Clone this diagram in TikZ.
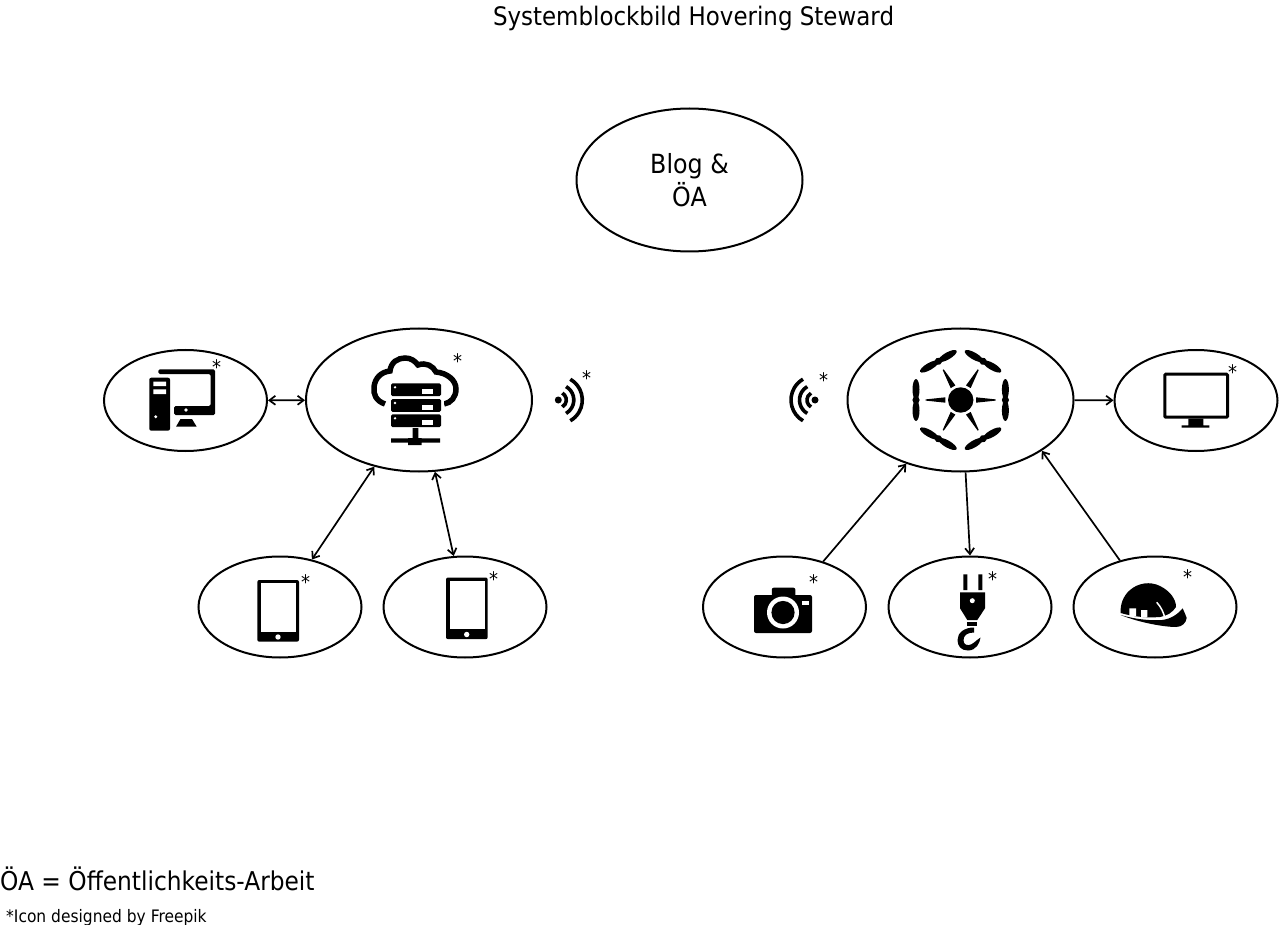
\documentclass[tikz,border=0pt]{standalone}
\usepackage{fontspec}
\setmainfont{DejaVu Sans}[FakeStretch=0.9]
\usetikzlibrary{positioning,shapes.geometric,arrows.meta}
\tikzset{
    bigcirc/.style={draw, ellipse, line width=2pt, minimum width=226pt, minimum height=143pt, inner sep=0pt, align=center, font=\fontsize{26.4}{33}\selectfont},
    smallcirc/.style={draw, ellipse, line width=2pt, minimum width=163pt, minimum height=101pt, inner sep=0pt},
    link/.style={line width=1.7pt, >={Straight Barb[length=6pt,width=9pt]}},
    star/.style={inner sep=0pt, text height=6pt, text depth=0pt, font=\fontsize{20}{20}\selectfont},
    wave/.style={line width=3.6pt}
}
\newcommand{\tabletIcon}[2]{
    \fill[rounded corners=2pt] (#1,#2) rectangle ++(41.7,61.7);
    \fill[white] (#1+3.7,#2+3.3) rectangle ++(35,48.4);
    \fill[white] (#1+20.7,#2+57) circle[radius=2.7];
}
\begin{document}
\begin{tikzpicture}[x=1pt, y=-1pt]
    \useasboundingbox (0,0) rectangle (1280,925);
    \node[font=\fontsize{25.5}{25.5}\selectfont] (title) at (693.5,18) {Systemblockbild Hovering Steward};
    \node[bigcirc] (blog) at (689.5,180) {Blog \&\\ÖA};
    \node[bigcirc] (server) at (419,400) {};
    \node[bigcirc] (drone) at (960.5,400) {};
    \node[smallcirc] (pc) at (185.5,400.5) {};
    \node[smallcirc] (monitor) at (1196,400.5) {};
    \node[smallcirc] (tablet) at (280,607) {};
    \node[smallcirc] (phone) at (465,607) {};
    \node[smallcirc] (camera) at (784.5,607) {};
    \node[smallcirc] (hook) at (970,607) {};
    \node[smallcirc] (helmet) at (1155,607) {};
    \node[anchor=west, inner sep=0pt, font=\fontsize{25.9}{25.9}\selectfont] (abbrev) at (0,879) {ÖA = Öffentlichkeits-Arbeit};
    \node[anchor=west, inner sep=0pt, font=\fontsize{17.2}{17.2}\selectfont] (credit) at (6,918) {*Icon designed by Freepik};
    \foreach \n / \x / \y in {pc/216.5/371, server/457.5/365, wifia/586.5/382, wifib/823.5/385, monitor/1232.5/376, tablet/305.5/586, phone/493.5/583, camera/813.5/586, hook/992.5/583, helmet/1187.5/581}
        \node[star] (star-\n) at (\x,\y) {*};
    \foreach \u / \v in {pc/server, server/tablet, server/phone}
        \draw[link, <->] (\u) -- (\v);
    \foreach \u / \v in {drone/monitor, camera/drone}
        \draw[link, ->] (\u) -- (\v);
    \draw[link, ->] (drone.-86) -- (hook.north);
    \draw[link, ->] (helmet.127) -- (drone.-32);
    % PC
    \fill[rounded corners=2pt] (149.3,377.7) rectangle (170,430.7);
    \fill[white] (153.3,381.7) rectangle (166,386) (153.3,389.3) rectangle (166,394);
    \fill[white] (155.7,416.7) circle[radius=1.6];
    \fill[rounded corners=1.5pt] (158.3,369.3) -- (215,369.3) -- (215,415) -- (174,415) -- (174,406) -- (210.7,406) -- (210.7,374) -- (158.3,374) -- cycle;
    \fill[white] (186,410) circle[radius=1.8];
    \fill (176,426.7) -- (180.5,419) -- (192,419) -- (196.7,426.7) -- cycle;
    % server
    \draw[line width=5.5pt] (385,404) .. controls (376,401) and (373,394) .. (374,387) .. controls (375,378) and (381,372) .. (390,371)
        .. controls (391,362) and (398,358) .. (405,358) .. controls (411,358) and (415,361) .. (418,365)
        .. controls (426,362) and (433,366) .. (436,372) .. controls (447,373) and (456,380) .. (456,389) .. controls (456,397) and (451,403) .. (444,404);
    \fill[white] (388,380) rectangle (444,430);
    \foreach \y in {383.3,399,414.3} {
        \fill[rounded corners=1.5pt] (391,\y) rectangle ++(50,12.9);
        \fill[white] (421.7,\y+6) rectangle ++(11.6,4.7);
        \fill[white] (395,\y+4) circle[radius=1.3];
    }
    \fill (412.7,428) rectangle (418.3,442) (391,438.3) rectangle (440,442.7) (408,438) rectangle (421.7,445);
    % wifi
    \fill (558.3,400) circle[radius=3.5];
    \fill (815,400) circle[radius=3.5];
    \foreach \r in {8,15.5,24} {
        \draw[wave] (558.3,400) ++(-60:\r) arc[start angle=-60, end angle=60, radius=\r];
        \draw[wave] (815,400) ++(120:\r) arc[start angle=120, end angle=240, radius=\r];
    }
    % drone
    \fill (960.7,400) circle[radius=12.7];
    \foreach \a in {0,60,...,300} {
        \begin{scope}[shift={(960.7,400)}, rotate=\a]
            \fill (15.3,-2.7) -- (35,-0.6) -- (35,0.6) -- (15.3,2.7) -- cycle;
            \fill (44.7,0) circle[radius=3.6];
            \fill (44.7,-10.5) ellipse[x radius=3.5, y radius=10.5];
            \fill (44.7,10.5) ellipse[x radius=3.5, y radius=10.5];
        \end{scope}
    }
    % monitor
    \draw[line width=3pt, rounded corners=1pt] (1164.8,374.2) rectangle (1227.5,417.2);
    \fill (1188.3,418.7) rectangle (1203.3,425.3) (1181.7,425.3) rectangle (1209.3,427.7);
    % tablets
    \tabletIcon{257.3}{580}
    \tabletIcon{446}{577.5}
    % camera
    \fill[rounded corners=2pt] (754,595) rectangle (812,633);
    \fill[rounded corners=2pt] (771.8,587.7) rectangle (795.4,600);
    \fill[white] (783,612.5) circle[radius=16];
    \fill (783,612.5) circle[radius=11.6];
    \fill[white] (801.7,600.8) rectangle (808.7,605);
    % hook
    \fill (963.3,574.3) rectangle (967.3,590) (978.3,574.3) rectangle (982.3,590);
    \fill (960,592.3) -- (985,592.3) -- (985,608.3) -- (977.3,620) -- (967.3,620) -- (960,608.3) -- cycle;
    \fill[white] (972.3,600.7) circle[radius=2.5];
    \fill (967.3,622.3) rectangle (977.3,625.7);
    \fill (974,627.5) -- (974,632.5) .. controls (968,632.5) and (963.5,635) .. (963.5,640) .. controls (963.5,644) and (966,645.5) .. (969,645) .. controls (973,644.5) and (975,641) .. (980.5,637.5)
        .. controls (980,643) and (976,650.5) .. (968,650.5) .. controls (961,650.5) and (957.5,646) .. (957.5,640) .. controls (957.5,633) and (964,627.5) .. (974,627.5) -- cycle;
    % helmet
    \fill (1120.7,613) .. controls (1120,605) and (1123,596) .. (1130,590) .. controls (1138,583) and (1150,581) .. (1160,586) .. controls (1170,591) and (1176,599) .. (1176,607)
        .. controls (1173,612) and (1167,616) .. (1160,617) .. controls (1148,618) and (1134,617) .. cycle;
    \fill[white] (1129.3,608.3) rectangle (1136,616) (1141,610) rectangle (1147.3,617);
    \draw[white, line width=1.5pt] (1156.7,602.3) .. controls (1161,607) and (1164,613) .. (1165,619);
    \fill (1120.7,615) .. controls (1134,619) and (1150,621) .. (1162,620) .. controls (1171,619) and (1178,614) .. (1182.7,608.3) .. controls (1184,612) and (1186,615) .. (1186.7,618)
        .. controls (1186,623) and (1182,627) .. (1176,627) .. controls (1165,627) and (1140,623) .. cycle;
\end{tikzpicture}
\end{document}
